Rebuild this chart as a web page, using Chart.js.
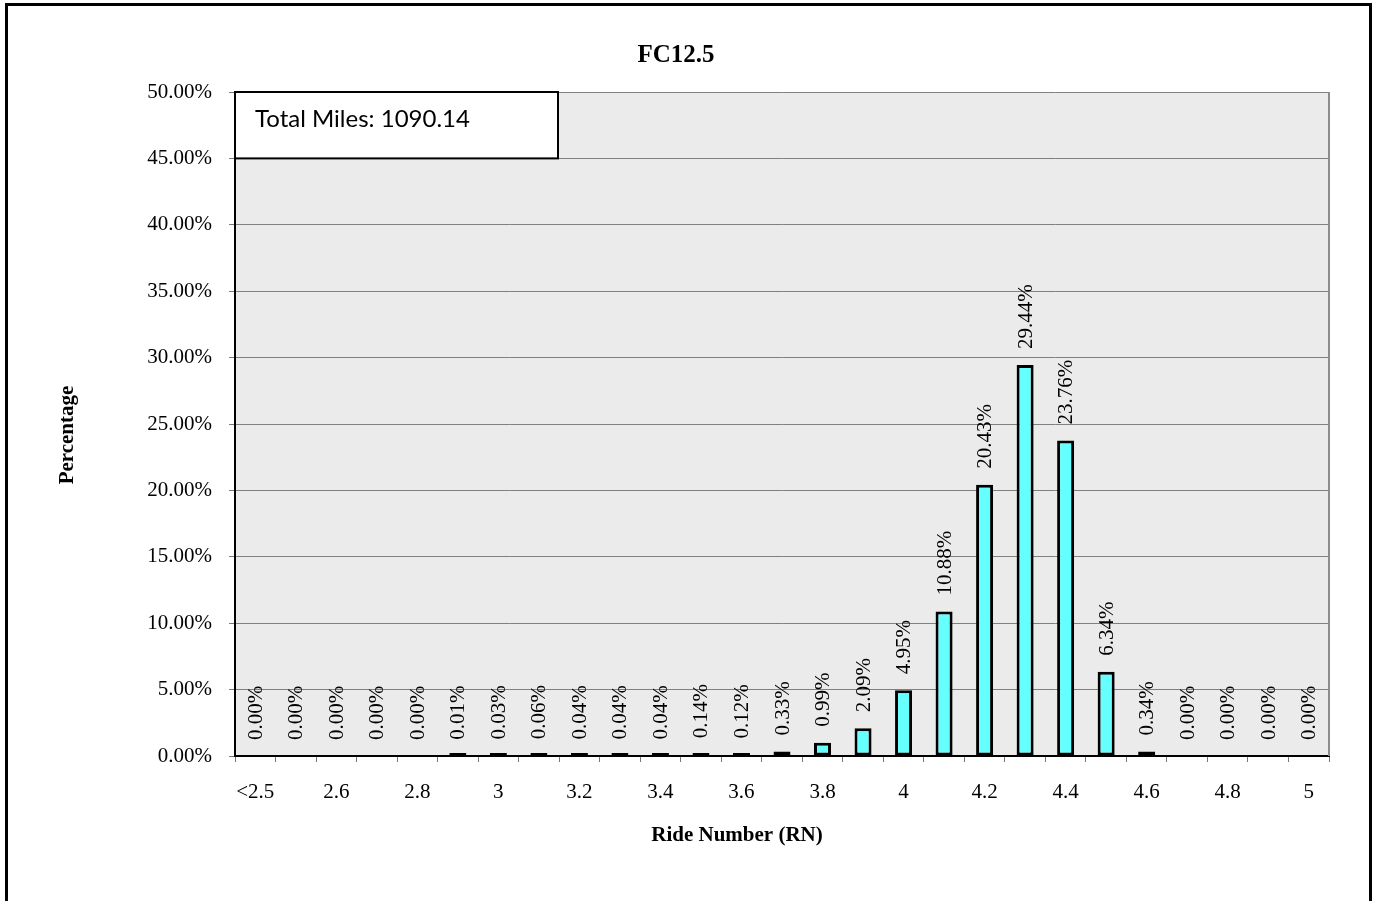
<!DOCTYPE html>
<html>
	<head>
		<style>
			body {
				margin: 0;
				overflow: hidden;
				background: #fff;
			}
			#wrap {
				position: absolute;
				left: 0;
				top: 0;
				width: 1376px;
				height: 901px;
			}
			#frame {
				position: absolute;
				left: 5px;
				top: 3px;
				width: 1367px;
				height: 920px;
				border: 3px solid #000;
				box-sizing: border-box;
				pointer-events: none;
			}
		</style>
		<title>FC12.5</title>
	</head>
	<body>
		<div id="wrap"><canvas id="canvas1"></canvas></div>
		<div id="frame"></div>
		<script src="https://cdn.jsdelivr.net/npm/chart.js@4/dist/chart.umd.min.js"></script>
		<script>
			var cats = ['<2.5','2.5','2.6','2.7','2.8','2.9','3','3.1','3.2','3.3','3.4','3.5','3.6','3.7','3.8','3.9','4','4.1','4.2','4.3','4.4','4.5','4.6','4.7','4.8','4.9','5'];
			var pct = [0, 0, 0, 0, 0, 0.01, 0.03, 0.06, 0.04, 0.04, 0.04, 0.14, 0.12, 0.33, 0.99, 2.09, 4.95, 10.88, 20.43, 29.44, 23.76, 6.34, 0.34, 0, 0, 0, 0];
			var yTicks = [0, 5, 10, 15, 20, 25, 30, 35, 40, 45, 50];
			var chartTitle = 'FC12.5';
			var xTitle = 'Ride Number (RN)';
			var yTitle = 'Percentage';
			var boxText = 'Total Miles: 1090.14';

			var serif = "'Liberation Serif', 'Times New Roman', serif";

			// plot background, right edge, labels, axis titles and the text box
			var plotFrame = {
				id: 'plotFrame',
				beforeDraw: function (chart) {
					var a = chart.chartArea, ctx = chart.ctx;
					ctx.save();
					ctx.fillStyle = '#ebebeb';
					ctx.fillRect(a.left, a.top, a.right - a.left, a.bottom - a.top);
					ctx.restore();
				},
				afterDatasetsDraw: function (chart) {
					var a = chart.chartArea, ctx = chart.ctx;
					var x = chart.scales.x, y = chart.scales.y;
					ctx.save();
					ctx.strokeStyle = '#8c8c8c';
					ctx.lineWidth = 2;
					ctx.beginPath();
					ctx.moveTo(a.right, a.top);
					ctx.lineTo(a.right, a.bottom);
					ctx.stroke();

					// data labels, rotated
					ctx.fillStyle = '#000';
					ctx.font = '21px ' + serif;
					ctx.textAlign = 'left';
					ctx.textBaseline = 'middle';
					for (var i = 0; i < pct.length; i++) {
						ctx.save();
						ctx.translate(x.getPixelForValue(i), y.getPixelForValue(pct[i]) - 16);
						ctx.rotate(-Math.PI / 2);
						ctx.fillText(pct[i].toFixed(2) + '%', 0, 1);
						ctx.restore();
					}

					// axis titles
					ctx.font = 'bold 21px ' + serif;
					ctx.textAlign = 'center';
					ctx.fillText(xTitle, a.left + 502, 836);
					ctx.save();
					ctx.translate(68, 435);
					ctx.rotate(-Math.PI / 2);
					ctx.fillText(yTitle, 0, 0);
					ctx.restore();

					// total miles box
					var bx = a.left, by = y.getPixelForValue(50);
					var bw = 323, bh = y.getPixelForValue(45) - by;
					ctx.fillStyle = '#fff';
					ctx.fillRect(bx, by, bw, bh);
					ctx.strokeStyle = '#000';
					ctx.lineWidth = 2;
					ctx.strokeRect(bx, by, bw, bh);
					ctx.fillStyle = '#000';
					ctx.font = "24px Lato, 'Open Sans', sans-serif";
					ctx.textAlign = 'left';
					ctx.textBaseline = 'middle';
					ctx.fillText(boxText, bx + 20, by + 27);
					ctx.restore();
				}
			};

			var ctx1 = document.getElementById('canvas1').getContext('2d');
			var chart1 = new Chart(ctx1, {
				type: 'bar',
				data: {
					labels: cats,
					datasets: [{
						// zero bars are not drawn, tiny ones still show as a line
						data: pct.map(function (v) { return v === 0 ? null : v; }),
						backgroundColor: '#66ffff',
						borderColor: '#000',
						borderWidth: 3,
						borderSkipped: false,
						minBarLength: 3,
						barPercentage: 0.42,
						categoryPercentage: 1
					}]
				},
				plugins: [plotFrame],
				options: {
					animation: false,
					responsive: true,
					maintainAspectRatio: false,
					layout: {
						padding: { left: 23, right: 47, top: 0, bottom: 25 }
					},
					plugins: {
						legend: { display: false },
						tooltip: { enabled: false },
						title: {
							display: true,
							text: chartTitle,
							color: '#000',
							font: { family: serif, size: 25, weight: 'bold' },
							padding: { top: 41, bottom: 21 }
						}
					},
					scales: {
						x: {
							afterFit: function (axis) { axis.height = 120; },
							grid: {
								display: true,
								offset: true,
								drawOnChartArea: false,
								drawTicks: true,
								tickLength: 6,
								color: '#777'
							},
							border: { color: '#000', width: 2 },
							ticks: {
								autoSkip: false,
								maxRotation: 0,
								padding: 18,
								color: '#000',
								font: { family: serif, size: 21 },
								callback: function (v, i) { return i % 2 === 0 ? cats[i] : ''; }
							}
						},
						y: {
							min: 0,
							max: 50,
							afterFit: function (axis) { axis.width = 212; },
							afterBuildTicks: function (axis) {
								axis.ticks = yTicks.map(function (v) { return { value: v }; });
							},
							grid: {
								color: '#808080',
								lineWidth: 1,
								tickLength: 6,
								tickColor: '#777'
							},
							border: { color: '#000', width: 2 },
							ticks: {
								padding: 17,
								color: '#000',
								font: { family: serif, size: 21 },
								callback: function (v) { return v.toFixed(2) + '%'; }
							}
						}
					}
				}
			});
		</script>
	</body>
</html>
